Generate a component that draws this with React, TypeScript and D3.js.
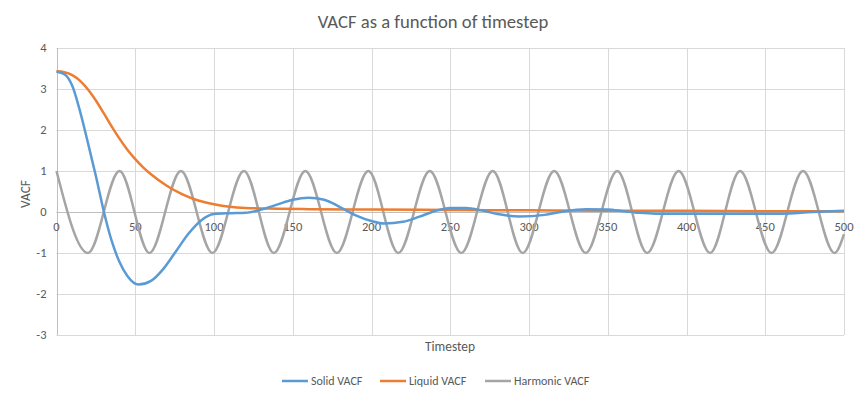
import { useEffect, useRef } from "react";
import * as d3 from "d3";

// values
const solidSteps = [0, 5, 10, 15, 20, 25, 30, 35, 40, 45, 52, 60, 68, 76, 84, 92, 100, 110, 120, 130, 140, 150, 160, 170, 180, 190, 200, 208, 220, 230, 240, 250, 260, 270, 280, 294, 310, 320, 336, 350, 360, 370, 380, 400, 420, 440, 460, 480, 500];
const solidVacf = [3.42, 3.36, 3.08, 2.45, 1.68, 0.88, 0.02, -0.7, -1.22, -1.56, -1.77, -1.68, -1.38, -0.95, -0.52, -0.2, -0.05, -0.03, -0.02, 0.06, 0.18, 0.3, 0.35, 0.3, 0.12, -0.08, -0.22, -0.28, -0.24, -0.12, 0.02, 0.1, 0.1, 0.04, -0.05, -0.11, -0.07, 0.0, 0.07, 0.06, 0.02, -0.02, -0.04, -0.04, -0.04, -0.04, -0.04, 0.0, 0.03];

const liquidSteps = [0, 5, 10, 15, 20, 25, 30, 35, 40, 45, 50, 55, 60, 70, 80, 90, 100, 110, 120, 140, 160, 200, 250, 300, 350, 400, 450, 500];
const liquidVacf = [3.43, 3.41, 3.34, 3.2, 2.99, 2.72, 2.41, 2.09, 1.79, 1.52, 1.29, 1.09, 0.92, 0.64, 0.43, 0.28, 0.19, 0.13, 0.1, 0.08, 0.07, 0.06, 0.05, 0.04, 0.03, 0.03, 0.02, 0.02];

// peaks and troughs of the harmonic curve
const harmonicSteps = [0, 20, 40, 59, 79, 99, 119, 138, 158, 178, 198, 217, 237, 257, 277, 296, 316, 336, 356, 375, 395, 415, 434, 454, 474, 494, 500];
const harmonicVacf = [1, -1, 1, -1, 1, -1, 1, -1, 1, -1, 1, -1, 1, -1, 1, -1, 1, -1, 1, -1, 1, -1, 1, -1, 1, -1, -0.54];

const seriesNames = ["Solid VACF", "Liquid VACF", "Harmonic VACF"];
const seriesColors = ["#5b9bd5", "#ed7d31", "#a5a5a5"];
const xTicks = [0, 50, 100, 150, 200, 250, 300, 350, 400, 450, 500];
const yTicks = [-3, -2, -1, 0, 1, 2, 3, 4];

export default function App() {
  const ref = useRef<SVGSVGElement>(null);

  useEffect(() => {
    const svg = d3.select(ref.current);
    svg.selectAll("*").remove();
    const font = "Calibri, Carlito, Lato, sans-serif";
    const textColor = "#595959";

    const x = d3.scaleLinear().domain([0, 500]).range([56.5, 844]);
    const y = d3.scaleLinear().domain([-3, 4]).range([335, 48]);

    // gridlines
    const grid = svg.append("g");
    grid
      .selectAll("line.h")
      .data(yTicks)
      .join("line")
      .attr("x1", x(0))
      .attr("x2", x(500))
      .attr("y1", (d) => Math.round(y(d)) + 0.5)
      .attr("y2", (d) => Math.round(y(d)) + 0.5)
      .attr("stroke", "#d9d9d9");
    grid
      .selectAll("line.v")
      .data(xTicks.slice(1))
      .join("line")
      .attr("x1", (d) => Math.round(x(d)) + 0.5)
      .attr("x2", (d) => Math.round(x(d)) + 0.5)
      .attr("y1", y(4))
      .attr("y2", y(-3))
      .attr("stroke", "#d9d9d9");

    // axis lines
    svg
      .append("line")
      .attr("x1", Math.round(x(0)) + 0.5)
      .attr("x2", Math.round(x(0)) + 0.5)
      .attr("y1", y(4))
      .attr("y2", y(-3))
      .attr("stroke", "#bfbfbf");
    svg
      .append("line")
      .attr("x1", x(0))
      .attr("x2", x(500))
      .attr("y1", Math.round(y(0)) + 0.5)
      .attr("y2", Math.round(y(0)) + 0.5)
      .attr("stroke", "#bfbfbf");

    // tick labels
    svg
      .append("g")
      .selectAll("text")
      .data(yTicks)
      .join("text")
      .attr("x", x(0) - 10)
      .attr("y", (d) => y(d) + 4)
      .attr("text-anchor", "end")
      .attr("font-family", font)
      .attr("font-size", 12.5)
      .attr("fill", textColor)
      .text((d) => d);
    svg
      .append("g")
      .selectAll("text")
      .data(xTicks)
      .join("text")
      .attr("x", (d) => x(d))
      .attr("y", y(0) + 19)
      .attr("text-anchor", "middle")
      .attr("font-family", font)
      .attr("font-size", 12.5)
      .attr("fill", textColor)
      .text((d) => d);

    // series
    const line = d3
      .line<[number, number]>()
      .x((d) => x(d[0]))
      .y((d) => y(d[1]))
      .curve(d3.curveMonotoneX);
    const series = [
      d3.zip(harmonicSteps, harmonicVacf),
      d3.zip(liquidSteps, liquidVacf),
      d3.zip(solidSteps, solidVacf),
    ];
    const order = [2, 1, 0];
    series.forEach((pts, i) => {
      svg
        .append("path")
        .datum(pts as [number, number][])
        .attr("fill", "none")
        .attr("stroke", seriesColors[order[i]])
        .attr("stroke-width", 2.5)
        .attr("stroke-linejoin", "round")
        .attr("d", line);
    });

    // titles
    svg
      .append("text")
      .attr("x", 433)
      .attr("y", 28)
      .attr("text-anchor", "middle")
      .attr("font-family", font)
      .attr("font-size", 18.67)
      .attr("fill", textColor)
      .text("VACF as a function of timestep");
    svg
      .append("text")
      .attr("x", 450)
      .attr("y", 351)
      .attr("text-anchor", "middle")
      .attr("font-family", font)
      .attr("font-size", 13.33)
      .attr("fill", textColor)
      .text("Timestep");
    svg
      .append("text")
      .attr("transform", "translate(30,194) rotate(-90)")
      .attr("text-anchor", "middle")
      .attr("font-family", font)
      .attr("font-size", 13.33)
      .attr("fill", textColor)
      .text("VACF");

    // legend
    const legendX = [282, 380, 485];
    const legend = svg
      .append("g")
      .selectAll("g")
      .data(seriesNames)
      .join("g")
      .attr("transform", (_, i) => `translate(${legendX[i]},381)`);
    legend
      .append("line")
      .attr("x1", 0)
      .attr("x2", 26)
      .attr("stroke", (_, i) => seriesColors[i])
      .attr("stroke-width", 2.5);
    legend
      .append("text")
      .attr("x", 29)
      .attr("y", 4)
      .attr("font-family", font)
      .attr("font-size", 12)
      .attr("fill", textColor)
      .text((d) => d);
  }, []);

  return (
    <svg
      ref={ref}
      width={865}
      height={399}
      style={{ position: "absolute", left: 0, top: 0, background: "#fff" }}
    />
  );
}
